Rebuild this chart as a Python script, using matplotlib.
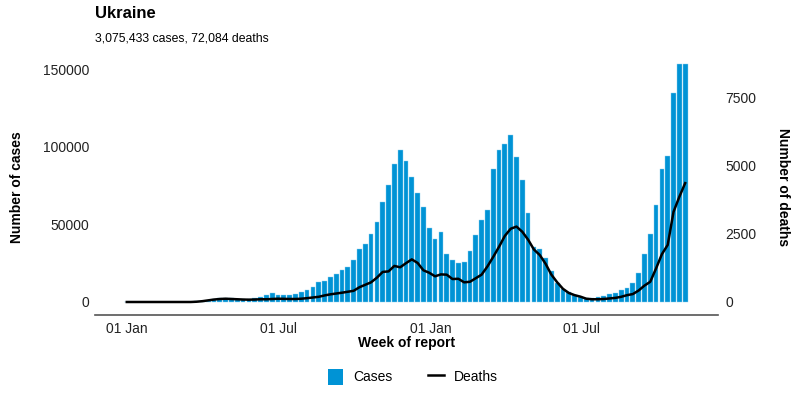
import numpy as np
import pandas as pd
import matplotlib.pyplot as plt
import matplotlib.dates as mdates
from matplotlib.lines import Line2D
from matplotlib.patches import Patch

plt.rcParams['font.family'] = ['Liberation Sans', 'DejaVu Sans']

# weekly data, Ukraine
cases = [0, 0, 0, 0, 0, 0, 0, 0, 0, 0, 0, 0, 400, 800, 900,
         2000, 2600, 2700, 2600, 2200, 2000, 1900, 2600, 3200, 4500,
         5600, 4600, 4200, 4500, 5100, 6500, 7900, 9650, 12900, 13300,
         16300, 17800, 20600, 22300, 27000, 34100, 37100, 44000, 51500, 64400,
         75300, 88800, 97800, 90600, 80700, 70000, 61200, 47400, 40600, 45300,
         30700, 27000, 24900, 25500, 32800, 42900, 53000, 59200, 85400, 97600,
         101700, 107500, 93100, 78300, 57500, 35600, 33900, 28300, 20000, 12000,
         8600, 6600, 4500, 3000, 2400, 2400, 3000, 3900, 5100, 6000,
         7700, 8800, 12400, 18500, 31100, 43600, 62500, 85800, 93800, 134400,
         153000, 153000]

deaths = [0, 0, 0, 0, 0, 0, 0, 0, 0, 0, 0, 0, 10, 30, 60,
          90, 110, 120, 110, 100, 90, 85, 90, 100, 100,
          110, 120, 115, 110, 110, 120, 140, 165, 190, 240,
          280, 310, 340, 375, 410, 540, 630, 720, 890, 1100,
          1120, 1320, 1270, 1420, 1560, 1430, 1160, 1070, 940, 1010,
          1000, 840, 850, 720, 740, 870, 1000, 1300, 1650, 2020,
          2420, 2680, 2760, 2570, 2280, 1920, 1720, 1400, 1000, 720,
          480, 330, 250, 195, 120, 100, 100, 110, 130, 150,
          190, 250, 290, 420, 600, 740, 1230, 1750, 2090, 3300,
          3850, 4350]

weeks = pd.date_range('2020-01-01', periods=len(cases), freq='7D')
total_cases = '3,075,433'
total_deaths = '72,084'

blue = '#0093d5'

fig = plt.figure(figsize=(8, 4), dpi=100)
ax = fig.add_axes([0.119, 0.2125, 0.779, 0.6375])
ax2 = ax.twinx()

ax.bar(weeks, cases, width=5.7, color=blue, edgecolor='#8fd0f0', linewidth=0.3)
ax2.plot(weeks, deaths, color='black', lw=1.8)

ax.set_ylim(-8400, 155800)
ax2.set_ylim(-476, 8857)
ax.set_xlim(pd.Timestamp('2019-11-24'), pd.Timestamp('2021-12-13'))

ax.set_yticks([0, 50000, 100000, 150000])
ax2.set_yticks([0, 2500, 5000, 7500])
ax.xaxis.set_major_locator(mdates.MonthLocator(bymonth=[1, 7], bymonthday=1))
ax.xaxis.set_major_formatter(mdates.DateFormatter('%d %b'))

for a in (ax, ax2):
    for s in ['top', 'left', 'right', 'bottom']:
        a.spines[s].set_visible(False)
    a.tick_params(length=0, labelsize=10, colors='#222222')
ax.spines['bottom'].set_visible(True)
ax.spines['bottom'].set_color('#555555')
ax.spines['bottom'].set_linewidth(1.2)
ax.tick_params(axis='x', pad=5)
ax.tick_params(axis='y', pad=4)
ax2.tick_params(axis='y', pad=5)

ax.set_xlabel('Week of report', fontsize=10, fontweight='bold', labelpad=0)
ax.set_ylabel('Number of cases', fontsize=10, fontweight='bold', labelpad=14)
ax2.set_ylabel('Number of deaths', fontsize=10, fontweight='bold', rotation=270,
               labelpad=24)

fig.text(0.119, 0.965, 'Ukraine', fontsize=12, fontweight='bold', va='center')
fig.text(0.119, 0.904, f'{total_cases} cases, {total_deaths} deaths', fontsize=8.8,
         va='center')

handles = [Patch(facecolor=blue, label='Cases'),
           Line2D([0], [0], color='black', lw=1.8, label='Deaths')]
fig.legend(handles=handles, loc='center', bbox_to_anchor=(0.516, 0.058), ncol=2,
           frameon=False, fontsize=10, handlelength=1.1, handleheight=1.4,
           handletextpad=0.7, columnspacing=2.6)

fig.savefig('out.png', dpi=100)
